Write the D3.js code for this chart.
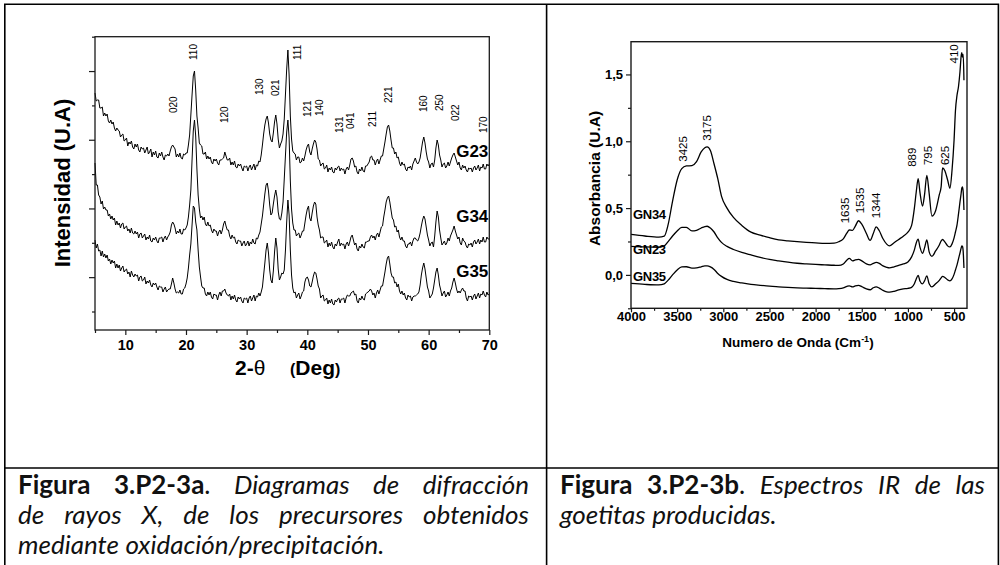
<!DOCTYPE html>
<html lang="es">
<head>
<meta charset="utf-8">
<title>Figura 3.P2-3</title>
<script src="https://cdn.jsdelivr.net/npm/d3@7/dist/d3.min.js"></script>
<style>
  html, body { margin: 0; padding: 0; background: #fff; }
  svg { display: block; }
  .chart text { font-family: "Liberation Sans", Arial, sans-serif; fill: #000; }
  .caption text { font-family: Lato, "Open Sans", sans-serif; fill: #111; }
</style>
</head>
<body>
<svg id="fig" width="1000" height="565" viewBox="0 0 1000 565"></svg>
<script>
// ---------- Panel a: X-ray diffraction patterns ----------
const twoThetaStart = 5;    // degrees
const twoThetaStep = 0.2;   // degrees between samples

const xrdG23 = [
  237,229,230,230,222, 222,223,214,217,214, 216,209,207,210,206, 208,202,199,202,200,
  199,193,195,196,189, 190,192,184,188,186, 189,183,181,186,183, 186,180,178,183,181,
  182,177,180,183,176, 178,181,173,178,175, 179,173,172,177,174, 178,173,170,175,174,
  176,174,179,183,185, 183,181,173,176,173, 177,172,171,176,175, 177,177,185,195,215,
  235,254,259,240,214, 202,187,185,184,176, 176,178,171,174,171, 173,168,166,171,169,
  171,167,165,170,170, 171,172,178,174,170, 170,172,165,168,165, 169,163,162,166,164,
  166,162,159,164,163, 164,159,163,165,160, 163,166,160,165,164, 169,168,175,185,196,
  205,211,214,207,196, 190,188,197,208,215, 206,191,182,186,189, 196,211,236,261,280,
  255,214,191,179,177, 176,170,173,173,167, 168,172,169,174,180, 184,186,178,175,181,
  186,190,188,181,171, 170,164,166,167,161, 162,165,158,162,160, 163,158,157,162,160,
  163,164,159,162,160, 161,156,161,163,160, 165,171,172,169,163, 164,158,156,161,159,
  163,159,158,164,164, 166,168,173,174,170, 170,165,169,171,166, 170,174,174,181,188,
  196,203,205,199,190, 182,182,176,178,172, 173,167,164,168,165, 166,161,159,163,162,
  164,160,166,169,172, 168,166,168,172,180, 188,193,187,178,171, 168,162,166,167,163,
  170,182,190,185,175, 170,163,166,167,162, 164,168,164,168,172, 175,177,173,169,165,
  168,162,160,165,162, 164,160,158,162,161, 162,158,162,164,160, 162,165,159,163,162,
  166,161,161,166,164, 166
];
const xrdG34 = [
  167,145,145,135,133, 126,129,121,123,120, 120,114,116,111,114, 110,112,105,109,105,
  107,102,106,107,101, 103,104,99,101,97, 102,97,96,99,96, 98,92,96,97,92,
  94,96,90,93,91, 95,89,88,92,90, 93,89,87,92,92, 93,88,92,94,90,
  93,95,98,105,108, 106,102,96,99,97, 101,96,96,101,100, 102,105,113,125,140,
  170,199,210,194,161, 135,121,112,114,110, 113,106,104,108,104, 105,100,97,101,99,
  99,94,98,100,96, 100,106,109,104,100, 100,94,91,95,92, 93,88,86,90,89,
  89,84,87,89,84, 86,89,84,88,86, 91,87,86,92,91, 95,98,106,114,125,
  136,145,147,139,125, 115,117,126,134,140, 133,118,111,110,117, 128,151,175,198,210,
  192,149,121,107,100, 100,94,96,97,92, 95,99,99,107,115, 121,124,112,109,117,
  124,128,126,113,105, 100,92,93,93,87, 88,90,83,87,84, 88,83,81,86,84,
  88,91,84,87,85, 86,81,86,88,84, 88,93,95,90,85, 87,81,79,84,82,
  86,83,82,88,88, 89,89,93,95,92, 94,90,95,97,93, 98,103,104,113,120,
  128,132,134,128,120, 112,110,103,104,98, 100,93,90,93,89, 89,84,82,86,86,
  88,84,89,92,92, 90,89,92,97,104, 110,114,111,103,95, 90,84,87,88,83,
  94,108,119,113,100, 92,85,87,89,85, 87,92,89,94,97, 100,104,99,95,91,
  93,87,85,92,89, 88,84,82,86,85, 87,83,88,90,86, 88,91,86,90,88,
  93,88,88,93,91, 91
];
const xrdG35 = [
  90,82,86,79,80, 74,79,73,76,72, 75,69,71,66,70, 67,69,62,66,62,
  65,59,62,64,58, 60,61,56,58,53, 59,55,53,56,54, 55,49,53,54,49,
  50,53,46,49,47, 50,45,43,47,45, 47,43,40,44,43, 43,38,41,43,38,
  40,41,41,46,52, 47,41,37,38,37, 40,36,36,41,42, 46,52,62,75,86,
  105,124,122,108,100, 80,63,53,44,42, 42,36,34,38,35, 38,33,31,36,35,
  35,30,35,38,34, 39,39,41,37,35, 34,36,30,34,31, 35,30,28,33,31,
  33,29,27,32,31, 32,27,32,34,29, 32,35,29,34,33, 37,34,38,43,55,
  67,80,87,77,60, 50,47,59,78,92, 82,61,50,53,57, 56,60,80,108,130,
  115,80,55,42,37, 38,32,35,37,31, 34,38,39,48,52, 53,50,44,43,48,
  54,58,57,51,44, 41,32,34,35,29, 30,32,26,30,27, 31,26,25,30,28,
  31,32,27,31,31, 32,27,32,35,34, 34,37,38,39,35, 36,29,27,32,30,
  34,31,30,36,37, 38,39,41,39,35, 37,32,37,40,36, 40,44,44,51,58,
  66,72,74,66,57, 53,53,47,48,43, 46,39,36,39,35, 37,32,30,35,33,
  34,29,33,34,34, 35,36,38,45,55, 62,67,61,52,43, 39,32,34,36,42,
  50,58,62,55,45, 40,34,37,39,33, 35,38,34,39,42, 48,52,47,41,37,
  39,37,40,42,39, 39,32,29,34,33, 34,30,34,36,31, 34,37,32,36,35,
  39,35,33,38,35, 36
];
const xrdSeriesNames = ["G23", "G34", "G35"];
const xrdNameLevel = [173, 108.5, 53.5];

const twoThetaTicks = [10, 20, 30, 40, 50, 60, 70];
const twoThetaMinorTicks = [5, 15, 25, 35, 45, 55, 65];
const intensityTicks = [52.85, 121.55, 190.25, 258.95];
const intensityMinorTicks = [18.5, 87.2, 155.9, 224.6, 293.3];

const hklLabels   = ["020","110","120","130","021","111","121","140","131","041","211","221","160","250","022","170"];
const hklTwoTheta = [18.0, 21.3, 26.4, 32.1, 34.7, 38.4, 40.0, 42.0, 45.3, 47.2, 50.7, 53.4, 59.2, 61.8, 64.5, 69.1];
const hklLevel    = [217, 270, 207, 235, 234, 270, 213, 214, 197, 201, 203, 227, 218, 219, 209, 197];

// ---------- Panel b: IR spectra ----------
const irWavenumber = [
  4000,3850,3700,3640,3600, 3550,3500,3450,3400,3340, 3290,3240,3200,3175,3140,
  3100,3060,3020,2960,2890, 2800,2700,2600,2500,2400, 2300,2200,2100,2000,1900,
  1800,1750,1700,1660,1635, 1600,1570,1535,1500,1450, 1410,1375,1344,1310,1270,
  1230,1200,1150,1100,1050, 1000,960,930,910,889, 870,842,820,795,770,
  740,700,660,640,625, 600,570,545,522,500, 485,468,452,436,423, 416,409,401,393
];
const irGN34 = [
  0.303,0.291,0.283,0.290,0.370, 0.550,0.710,0.795,0.815,0.818, 0.848,0.920,0.952,0.958,0.930,
  0.830,0.720,0.590,0.500,0.430, 0.370,0.320,0.298,0.278,0.262, 0.255,0.249,0.244,0.240,0.236,
  0.238,0.248,0.270,0.315,0.336, 0.333,0.365,0.405,0.380,0.310, 0.258,0.310,0.360,0.330,0.270,
  0.230,0.217,0.240,0.265,0.290, 0.320,0.370,0.500,0.620,0.720, 0.620,0.515,0.600,0.745,0.610,
  0.440,0.480,0.600,0.660,0.800, 0.780,0.710,0.648,0.785,1.010, 1.230,1.345,1.410,1.520,1.640, 1.663,1.630,1.650,1.457
];
const irGN23 = [
  0.213,0.209,0.207,0.217,0.247, 0.291,0.329,0.355,0.356,0.329, 0.333,0.351,0.362,0.364,0.351,
  0.321,0.277,0.243,0.213,0.190, 0.168,0.149,0.131,0.116,0.105, 0.095,0.087,0.082,0.078,0.075,
  0.072,0.071,0.082,0.112,0.123, 0.105,0.112,0.116,0.105,0.082, 0.075,0.086,0.093,0.086,0.067,
  0.056,0.052,0.060,0.071,0.082, 0.097,0.135,0.187,0.239,0.267, 0.209,0.161,0.202,0.262,0.172,
  0.138,0.179,0.224,0.254,0.265, 0.247,0.217,0.209,0.232,0.277, 0.321,0.374,0.456,0.546,0.613, 0.650,0.658,0.620,0.486
];
const irGN35 = [
  -0.064,-0.071,-0.075,-0.067,-0.041, 0.000,0.037,0.060,0.061,0.050, 0.052,0.060,0.067,0.067,0.060,
  0.041,0.011,-0.011,-0.034,-0.049, -0.060,-0.071,-0.078,-0.084,-0.090, -0.094,-0.097,-0.099,-0.101,-0.103,
  -0.105,-0.103,-0.097,-0.086,-0.082, -0.090,-0.082,-0.078,-0.088,-0.105, -0.111,-0.096,-0.090,-0.099,-0.116,
  -0.127,-0.129,-0.123,-0.112,-0.105, -0.101,-0.093,-0.067,-0.030,-0.004, -0.045,-0.067,-0.045,-0.007,-0.067,
  -0.090,-0.067,-0.041,-0.022,-0.011, -0.019,-0.037,-0.045,-0.030,0.004, 0.037,0.075,0.120,0.164,0.202, 0.217,0.213,0.172,0.052
];
const irSeriesNames = ["GN34", "GN23", "GN35"];
const irNameLevel = [0.415, 0.153, -0.045];
const irPeakLabels = [3425, 3175, 1635, 1535, 1344, 889, 795, 625, 410];
const irPeakLabelLevel = [0.847, 1.004, 0.386, 0.461, 0.424, 0.809, 0.822, 0.822, 1.582];

const wavenumberTicks = [4000, 3500, 3000, 2500, 2000, 1500, 1000, 500];
const wavenumberMinorTicks = [3750, 3250, 2750, 2250, 1750, 1250, 750];
const absorbanceTicks = [0, 0.5, 1.0, 1.5];
const absorbanceMinorTicks = [-0.25, 0.25, 0.75, 1.25];

// ---------- Captions (one entry per printed line; each word is a list of [text, style] runs) ----------
const captionLeft = [
  [[["Figura","b"]], [["3.P2-3a","b"],[".","n"]], [["Diagramas","i"]], [["de","i"]], [["difracción","i"]]],
  [[["de","i"]], [["rayos","i"]], [["X,","i"]], [["de","i"]], [["los","i"]], [["precursores","i"]], [["obtenidos","i"]]],
  [[["mediante","i"]], [["oxidación/precipitación.","i"]]]
];
const captionRight = [
  [[["Figura","b"]], [["3.P2-3b","b"],[".","n"]], [["Espectros","i"]], [["IR","i"]], [["de","i"]], [["las","i"]]],
  [[["goetitas","i"]], [["producidas.","i"]]]
];

// =====================================================================
const svg = d3.select("#fig");

// table rules around the two panels and their captions
const rules = svg.append("g").attr("fill", "none").attr("stroke", "#000").attr("stroke-width", 1.6);
rules.append("path").attr("d", "M4.8,566 V4.2 H998.4 V566");
rules.append("line").attr("x1", 546.6).attr("x2", 546.6).attr("y1", 4.2).attr("y2", 566);
rules.append("line").attr("x1", 4.8).attr("x2", 998.4).attr("y1", 468).attr("y2", 468);

function styleAxis(sel) {
  sel.select(".domain").remove();
  sel.selectAll(".tick line").attr("stroke", "#1a1a1a").attr("stroke-width", 1.2);
}

// ---------------- panel a ----------------
const ga = svg.append("g").attr("class", "chart");
const xA = d3.scaleLinear().domain([5, 70]).range([95, 489.3]);
const yA = d3.scaleLinear().domain([0, 293.3]).range([330, 36.7]);
const twoTheta = xrdG23.map((_, i) => twoThetaStart + i * twoThetaStep);

const lineA = d3.line().x((d, i) => xA(twoTheta[i])).y(d => yA(d));
[xrdG35, xrdG34, xrdG23].forEach(s => {
  ga.append("path").attr("d", lineA(s)).attr("fill", "none")
    .attr("stroke", "#000").attr("stroke-width", 1).attr("stroke-linejoin", "round");
});

ga.append("rect").attr("x", xA(5)).attr("y", yA(293.3))
  .attr("width", xA(70) - xA(5)).attr("height", yA(0) - yA(293.3))
  .attr("fill", "none").attr("stroke", "#1a1a1a").attr("stroke-width", 1.3);

const axA = ga.append("g").attr("transform", `translate(0,${yA(0)})`)
  .call(d3.axisBottom(xA).tickValues(twoThetaTicks).tickSize(5).tickFormat(d3.format("d")))
  .call(styleAxis);
axA.selectAll("text").attr("y", 19.5).attr("dy", 0)
  .attr("font-size", 14.5).attr("font-weight", "bold").attr("font-family", "Liberation Sans, Arial, sans-serif");
ga.append("g").attr("transform", `translate(0,${yA(0)})`)
  .call(d3.axisBottom(xA).tickValues(twoThetaMinorTicks).tickSize(3).tickFormat(""))
  .call(styleAxis);
ga.append("g").attr("transform", `translate(${xA(5)},0)`)
  .call(d3.axisLeft(yA).tickValues(intensityTicks).tickSize(6).tickFormat(""))
  .call(styleAxis);
ga.append("g").attr("transform", `translate(${xA(5)},0)`)
  .call(d3.axisLeft(yA).tickValues(intensityMinorTicks).tickSize(3).tickFormat(""))
  .call(styleAxis);

// Miller indices above the reflections
ga.append("g").selectAll("text").data(hklLabels).join("text")
  .attr("transform", (d, i) => `translate(${xA(hklTwoTheta[i])},${yA(hklLevel[i])}) rotate(-90)`)
  .attr("dy", "0.35em").attr("font-size", 10).text(d => d);

// sample names
ga.append("g").selectAll("text").data(xrdSeriesNames).join("text")
  .attr("x", xA(70) - 1).attr("y", (d, i) => yA(xrdNameLevel[i]))
  .attr("text-anchor", "end").attr("font-size", 17).attr("font-weight", "bold").text(d => d);

// axis titles
ga.append("text").attr("transform", "translate(62,183) rotate(-90)")
  .attr("text-anchor", "middle").attr("dy", "0.35em")
  .attr("font-size", 22).attr("font-weight", "bold").text("Intensidad (U.A)");
const tA = ga.append("text").attr("x", 235).attr("y", 375);
tA.append("tspan").attr("font-size", 21).attr("font-weight", "bold").text("2-");
tA.append("tspan").attr("font-size", 21).text("θ");
const tA2 = ga.append("text").attr("x", 290).attr("y", 375).attr("font-weight", "bold");
tA2.append("tspan").attr("font-size", 16).text("(");
tA2.append("tspan").attr("font-size", 21).text("Deg");
tA2.append("tspan").attr("font-size", 16).text(")");

// ---------------- panel b ----------------
const gb = svg.append("g").attr("class", "chart");
const xB = d3.scaleLinear().domain([4000, 360]).range([631, 967]);
const yB = d3.scaleLinear().domain([-0.25, 1.745]).range([308.3, 41.7]);

const lineB = d3.line().curve(d3.curveMonotoneX)
  .x((d, i) => xB(irWavenumber[i])).y(d => yB(d));
[irGN34, irGN23, irGN35].forEach(s => {
  gb.append("path").attr("d", lineB(s)).attr("fill", "none")
    .attr("stroke", "#000").attr("stroke-width", 1.3);
});

gb.append("rect").attr("x", xB(4000)).attr("y", yB(1.745))
  .attr("width", xB(360) - xB(4000)).attr("height", yB(-0.25) - yB(1.745))
  .attr("fill", "none").attr("stroke", "#1a1a1a").attr("stroke-width", 1.4);

const axB = gb.append("g").attr("transform", `translate(0,${yB(-0.25)})`)
  .call(d3.axisBottom(xB).tickValues(wavenumberTicks).tickSize(4).tickFormat(d3.format("d")))
  .call(styleAxis);
axB.selectAll("text").attr("y", 12.5).attr("dy", 0)
  .attr("font-size", 13).attr("font-weight", "bold").attr("font-family", "Liberation Sans, Arial, sans-serif");
gb.append("g").attr("transform", `translate(0,${yB(-0.25)})`)
  .call(d3.axisBottom(xB).tickValues(wavenumberMinorTicks).tickSize(2.5).tickFormat(""))
  .call(styleAxis);
const ayB = gb.append("g").attr("transform", `translate(${xB(4000)},0)`)
  .call(d3.axisLeft(yB).tickValues(absorbanceTicks).tickSize(5).tickPadding(3)
    .tickFormat(d => d3.format(".1f")(d).replace(".", ",")))
  .call(styleAxis);
ayB.selectAll("text").attr("font-size", 13).attr("font-weight", "bold")
  .attr("font-family", "Liberation Sans, Arial, sans-serif");
gb.append("g").attr("transform", `translate(${xB(4000)},0)`)
  .call(d3.axisLeft(yB).tickValues(absorbanceMinorTicks).tickSize(3).tickFormat(""))
  .call(styleAxis);

// band positions
const irLabelShift = [-1, 0, -4, 1, 0, -6, 1, 2, -8];
gb.append("g").selectAll("text").data(irPeakLabels).join("text")
  .attr("transform", (d, i) => `translate(${xB(d) + irLabelShift[i]},${yB(irPeakLabelLevel[i])}) rotate(-90)`)
  .attr("dy", "0.35em").attr("font-size", 11.5).text(d => d);

// sample names
gb.append("g").selectAll("text").data(irSeriesNames).join("text")
  .attr("x", xB(4000) + 2).attr("y", (d, i) => yB(irNameLevel[i]))
  .attr("font-size", 13).attr("font-weight", "bold").attr("letter-spacing", -0.3).text(d => d);

// axis titles
gb.append("text").attr("transform", "translate(595,178.5) rotate(-90)")
  .attr("text-anchor", "middle").attr("dy", "0.35em")
  .attr("font-size", 15.5).attr("font-weight", "bold").text("Absorbancia (U.A)");
const tB = gb.append("text").attr("x", 798).attr("y", 346.5).attr("text-anchor", "middle")
  .attr("font-size", 13.5).attr("font-weight", "bold");
tB.append("tspan").text("Numero de Onda (Cm");
tB.append("tspan").attr("font-size", 9).attr("dy", -5).text("-1");
tB.append("tspan").attr("dy", 5).text(")");

// ---------------- captions ----------------
const cap = svg.append("g").attr("class", "caption").attr("font-size", 26);

function setLine(words, x0, x1, y, justify) {
  const g = cap.append("g");
  const nodes = words.map(word => {
    const t = g.append("text").attr("y", y);
    word.forEach(([txt, st]) => {
      t.append("tspan").text(txt)
        .attr("font-weight", st === "b" ? "bold" : "normal")
        .attr("font-style", st === "i" ? "italic" : "normal");
    });
    return t;
  });
  const widths = nodes.map(t => t.node().getComputedTextLength());
  const gap = justify ? (x1 - x0 - d3.sum(widths)) / (words.length - 1) : 6.5;
  let x = x0;
  nodes.forEach((t, i) => { t.attr("x", x); x += widths[i] + gap; });
}
const captionBaseline = [494, 524, 554];
captionLeft.forEach((ln, i) => setLine(ln, 18, 529, captionBaseline[i], i < captionLeft.length - 1));
captionRight.forEach((ln, i) => setLine(ln, 560, 985, captionBaseline[i], i < captionRight.length - 1));
</script>
</body>
</html>
